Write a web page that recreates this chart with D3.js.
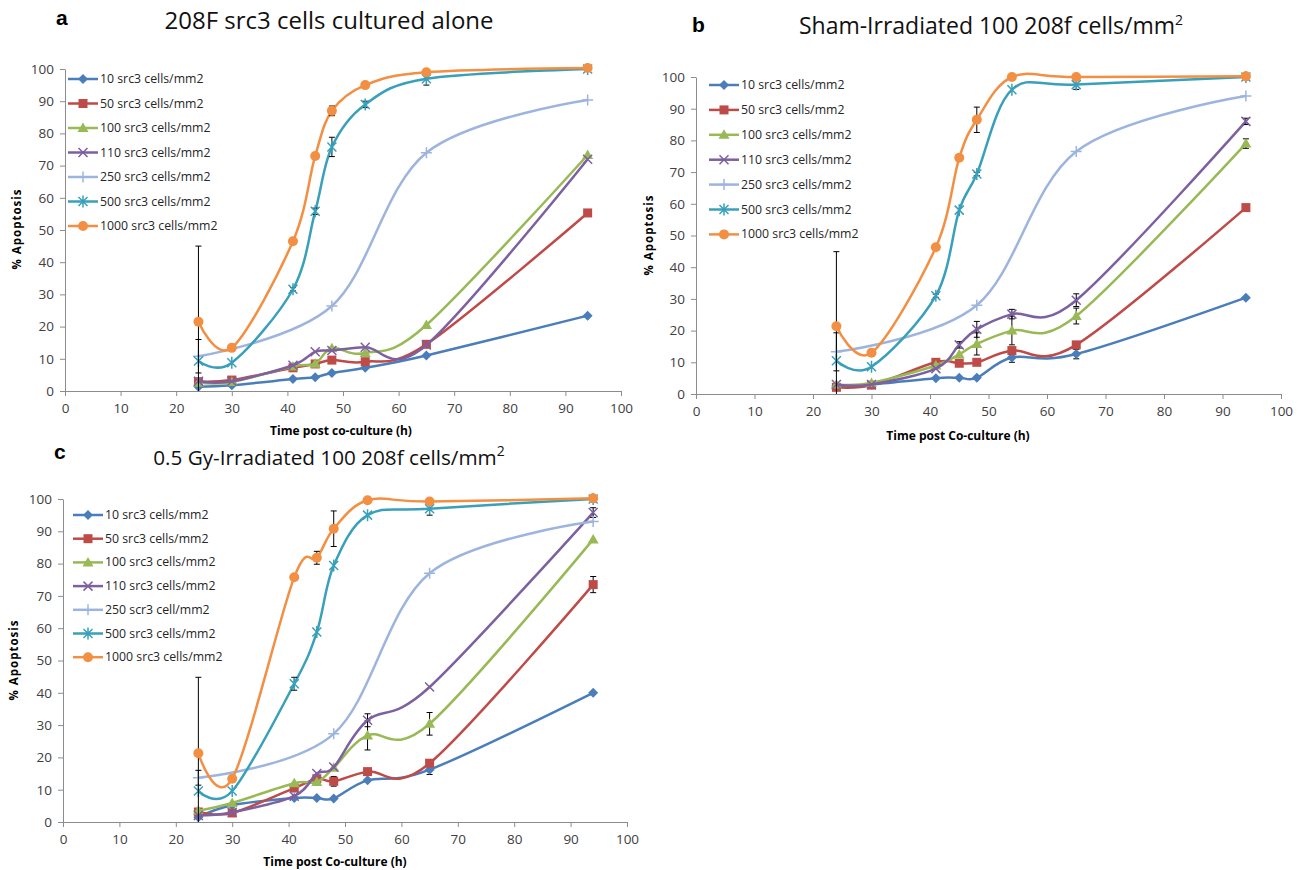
<!DOCTYPE html>
<html>
<head>
<meta charset="utf-8">
<script src="https://cdn.jsdelivr.net/npm/d3@7"></script>
<style>
  body { margin: 0; background: #fff; }
  svg { display: block; }
</style>
</head>
<body>
<div id="chart"></div>
<script>
// time points (h) shared by every series
var times = [24, 30, 41, 45, 48, 54, 65, 94];
var xTicks = [0, 10, 20, 30, 40, 50, 60, 70, 80, 90, 100];
var yTicks = [0, 10, 20, 30, 40, 50, 60, 70, 80, 90, 100];

var seriesNames = ["10 src3 cells/mm2", "50 src3 cells/mm2", "100 src3 cells/mm2",
  "110 src3 cells/mm2", "250 src3 cells/mm2", "500 src3 cells/mm2", "1000 src3 cells/mm2"];
var seriesNamesC = ["10 src3 cells/mm2", "50 src3 cells/mm2", "100 src3 cells/mm2",
  "110 src3 cells/mm2", "250 scr3 cell/mm2", "500 src3 cells/mm2", "1000 src3 cells/mm2"];

// % apoptosis, one row per series (10, 50, 100, 110, 250, 500, 1000); null = no point
var valuesA = [
  [1.3, 1.8, 3.7, 4.3, 5.6, 7.2, 11, 23.4],
  [2.9, 3.4, 7.2, 8.4, 9.6, 9.1, 14.5, 55.3],
  [2.6, 2.8, 7.6, 8.5, 13.3, 11.8, 20.5, 73.3],
  [3.0, 3.0, 8.0, 12.2, 12.6, 13.6, 14.3, 72],
  [10.8, null, null, null, 26.4, null, 74, 90.4],
  [9.3, 8.8, 31.6, 55.8, 75.8, 89, 97, 100],
  [21.5, 13.4, 46.5, 73, 87, 95, 99, 100.3]
];
var valuesB = [
  [2.5, 3.0, 5.0, 5.1, 5.1, 11.5, 12.6, 30.4],
  [2.1, 2.8, 10, 9.7, 10, 13.7, 15.5, 58.8],
  [3.0, 3.5, 9, 12.5, 15.8, 20, 24.6, 79],
  [3.0, 3.0, 8, 15.5, 20.4, 25.2, 29.6, 86],
  [13.3, null, null, null, 28, null, 76.5, 94],
  [10.5, 8.6, 31, 58, 69.4, 96, 97.6, 100],
  [21.4, 13, 46.3, 74.5, 86.5, 100, 100, 100.2]
];
var valuesC = [
  [1.5, 5.2, 7.4, 7.4, 7.3, 12.9, 16.2, 40],
  [3.1, 2.8, 10.5, 13.4, 12.6, 15.6, 18.2, 73.5],
  [3.5, 5.9, 12, 12.4, 16.8, 26.8, 30.4, 87.5],
  [2.0, 3.0, 8, 15, 17, 31.5, 41.8, 95.8],
  [13.7, null, null, null, 27.3, null, 77, 93],
  [9.6, 9.6, 42.8, 58.8, 79.4, 95, 97, 100],
  [21.3, 13.4, 75.8, 81.8, 90.8, 99.6, 99.2, 100.2]
];

// error bar half-widths, same layout as the values
var errorsA = [
  [0, 0, 0, 0, 0, 0, 0, 0],
  [0, 0, 0, 0, 0, 0, 0, 0],
  [0, 0, 0, 0, 0, 0, 0, 0],
  [0, 0, 0, 0, 0, 0, 0, 0],
  [5.2, 0, 0, 0, 0, 0, 0, 0],
  [0, 0, 0.5, 1, 3, 1, 2, 0],
  [23.5, 0, 1, 0, 1.5, 0, 0, 0]
];
var errorsB = [
  [0, 0, 0, 0, 0, 1.5, 1.5, 0],
  [0, 0, 0, 0, 0, 0, 0, 0],
  [0, 0, 0, 0, 3.5, 4.5, 2.5, 1.5],
  [0, 0, 0, 1, 2.5, 1.5, 2, 1],
  [6, 0, 0, 0, 0, 0, 0, 0],
  [0, 0, 0.5, 0, 0.5, 0, 1.5, 0],
  [23.5, 0.5, 0, 0, 4, 0, 0, 0]
];
var errorsC = [
  [0, 0, 0, 0, 0, 0, 1.5, 0],
  [0, 0, 0, 0, 1.5, 0, 0, 2.5],
  [0, 0, 0, 0, 0, 4.5, 3.5, 0],
  [0, 0, 0, 0, 0, 2, 0, 1.5],
  [2.3, 0, 0, 0, 0, 0, 0, 0],
  [0, 0, 2, 0, 0, 0, 2, 0],
  [23.5, 0, 0, 2, 5.5, 0, 0, 0]
];

var colors = ["#4a7ebb", "#be4b48", "#98b954", "#7d60a0", "#9db5de", "#3aa0ba", "#f38f43"];
var markers = ["diamond", "square", "triangle", "cross", "plus", "star", "circle"];

var svg = d3.select("#chart").append("svg")
    .attr("width", 1307)
    .attr("height", 870);

var panels = [
  {letter: "a", title: "208F src3 cells cultured alone", sup: false, titleSize: 24,
   left: 65, right: 621, top: 69, bottom: 391,
   letterX: 56, letterY: 25, titleX: 329, titleY: 29,
   legX: 68, legY: 79, legStep: 24.5,
   xlab: "Time post co-culture (h)", xlabX: 341, xlabY: 435, ylabX: 21, ylabY: 229,
   names: seriesNames, values: valuesA, errors: errorsA},
  {letter: "b", title: "Sham-Irradiated 100 208f cells/mm", sup: true, titleSize: 23,
   left: 696, right: 1281, top: 77, bottom: 394,
   letterX: 692, letterY: 32, titleX: 991, titleY: 34,
   legX: 709, legY: 85, legStep: 24.9,
   xlab: "Time post Co-culture (h)", xlabX: 958, xlabY: 440, ylabX: 653, ylabY: 235,
   names: seriesNames, values: valuesB, errors: errorsB},
  {letter: "c", title: "0.5 Gy-Irradiated 100 208f cells/mm", sup: true, titleSize: 20.7,
   left: 63, right: 627, top: 499, bottom: 822,
   letterX: 54, letterY: 459, titleX: 329, titleY: 465,
   legX: 73, legY: 515, legStep: 23.7,
   xlab: "Time post Co-culture (h)", xlabX: 335, xlabY: 866, ylabX: 18, ylabY: 660,
   names: seriesNamesC, values: valuesC, errors: errorsC}
];

function drawMarker(g, type, color) {
    if (type == "diamond") {
        g.append("path").attr("d", "M0,-5L5,0L0,5L-5,0Z").attr("fill", color);
    } else if (type == "square") {
        g.append("rect").attr("x", -4.5).attr("y", -4.5).attr("width", 9).attr("height", 9).attr("fill", color);
    } else if (type == "triangle") {
        g.append("path").attr("d", "M0,-5.5L5.5,4L-5.5,4Z").attr("fill", color);
    } else if (type == "cross") {
        g.append("path").attr("d", "M-4.5,-4.5L4.5,4.5M-4.5,4.5L4.5,-4.5")
            .attr("stroke", color).attr("stroke-width", 1.5);
    } else if (type == "plus") {
        g.append("path").attr("d", "M-5.5,0L5.5,0M0,-5.5L0,5.5")
            .attr("stroke", color).attr("stroke-width", 1.5);
    } else if (type == "star") {
        g.append("path").attr("d", "M-4.5,-4.5L4.5,4.5M-4.5,4.5L4.5,-4.5M0,-6L0,6")
            .attr("stroke", color).attr("stroke-width", 1.5);
    } else {
        g.append("circle").attr("r", 5).attr("fill", color);
    }
}

panels.forEach(function(p) {
    var x = d3.scaleLinear().domain([0, 100]).range([p.left, p.right]);
    var y = d3.scaleLinear().domain([0, 100]).range([p.bottom, p.top]);

    // panel letter and title
    svg.append("text")
        .attr("x", p.letterX).attr("y", p.letterY)
        .style("font-family", "Liberation Sans, Arial, sans-serif")
        .style("font-weight", "bold")
        .style("font-size", "21px")
        .text(p.letter);
    var t = svg.append("text")
        .attr("x", p.titleX).attr("y", p.titleY)
        .attr("text-anchor", "middle")
        .style("font-family", "Open Sans, sans-serif")
        .style("font-size", p.titleSize + "px")
        .attr("fill", "#111")
        .text(p.title);
    if (p.sup) {
        t.append("tspan").attr("dy", -9).style("font-size", "14px").text("2");
    }

    // axes
    var xAxis = svg.append("g")
        .attr("transform", "translate(0," + p.bottom + ")")
        .call(d3.axisBottom(x).tickValues(xTicks).tickSize(5).tickSizeOuter(0).tickPadding(7));
    var yAxis = svg.append("g")
        .attr("transform", "translate(" + p.left + ",0)")
        .call(d3.axisLeft(y).tickValues(yTicks).tickSize(5).tickSizeOuter(0).tickPadding(6));
    [xAxis, yAxis].forEach(function(a) {
        a.select(".domain").attr("stroke", "#8c8c8c");
        a.selectAll(".tick line").attr("stroke", "#8c8c8c");
        a.selectAll(".tick text")
            .attr("fill", "#404040")
            .style("font-family", "Open Sans, sans-serif")
            .style("font-size", "13.5px");
    });

    svg.append("text")
        .attr("x", p.xlabX).attr("y", p.xlabY)
        .attr("text-anchor", "middle")
        .style("font-family", "Open Sans, sans-serif")
        .style("font-weight", "bold")
        .style("font-size", "12px")
        .text(p.xlab);
    svg.append("text")
        .attr("transform", "translate(" + p.ylabX + "," + p.ylabY + ")rotate(-90)")
        .attr("text-anchor", "middle")
        .style("font-family", "Open Sans, sans-serif")
        .style("font-weight", "bold")
        .style("font-size", "11.5px")
        .style("letter-spacing", "1px")
        .text("% Apoptosis");

    var line = d3.line()
        .x(function(d) { return x(d[0]); })
        .y(function(d) { return y(d[1]); })
        .curve(d3.curveCardinal.tension(0));

    p.values.forEach(function(vals, i) {
        var pts = times.map(function(tm, j) { return [tm, vals[j], p.errors[i][j]]; })
            .filter(function(d) { return d[1] != null; });
        var g = svg.append("g");

        g.append("path")
            .datum(pts)
            .attr("d", line)
            .attr("fill", "none")
            .attr("stroke", colors[i])
            .attr("stroke-width", 2.5);

        // error bars
        pts.filter(function(d) { return d[2] > 0; }).forEach(function(d) {
            var cx = x(d[0]);
            var lo = y(Math.max(0, d[1] - d[2])), hi = y(d[1] + d[2]);
            g.append("path")
                .attr("d", "M" + cx + "," + lo + "V" + hi +
                           "M" + (cx - 3) + "," + hi + "H" + (cx + 3) +
                           (d[1] - d[2] > 0 ? "M" + (cx - 3) + "," + lo + "H" + (cx + 3) : ""))
                .attr("stroke", "#000")
                .attr("stroke-width", 1)
                .attr("fill", "none");
        });

        pts.forEach(function(d) {
            var m = g.append("g").attr("transform", "translate(" + x(d[0]) + "," + y(d[1]) + ")");
            drawMarker(m, markers[i], colors[i]);
        });

        // legend entry
        var ly = p.legY + i * p.legStep;
        var lg = svg.append("g");
        lg.append("line")
            .attr("x1", p.legX).attr("x2", p.legX + 30)
            .attr("y1", ly).attr("y2", ly)
            .attr("stroke", colors[i]).attr("stroke-width", 2.5);
        var lm = lg.append("g").attr("transform", "translate(" + (p.legX + 15) + "," + ly + ")");
        drawMarker(lm, markers[i], colors[i]);
        lg.append("text")
            .attr("x", p.legX + 32).attr("y", ly + 4)
            .attr("fill", "#262626")
            .style("font-family", "Open Sans, sans-serif")
            .style("font-size", "12.3px")
            .text(p.names[i]);
    });
});
</script>
</body>
</html>
